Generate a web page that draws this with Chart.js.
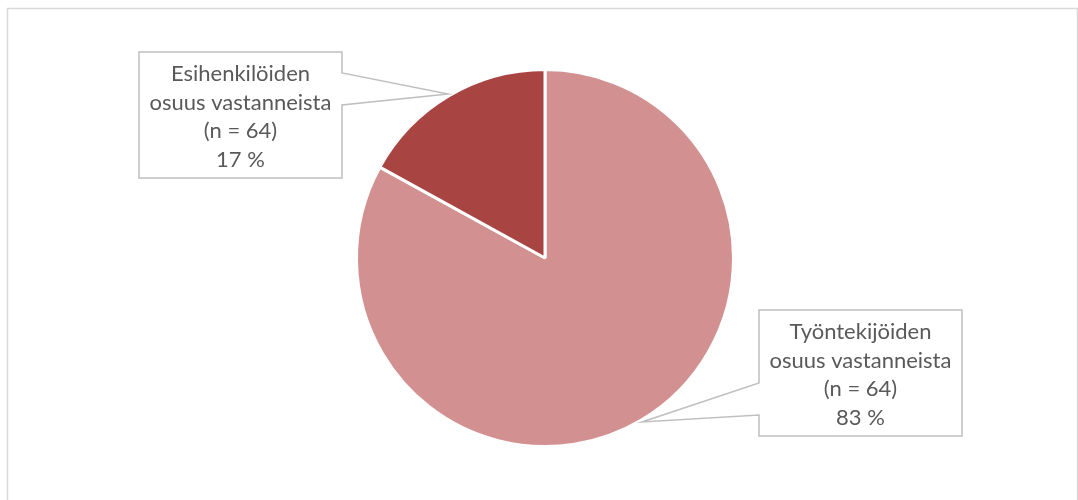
<!DOCTYPE html>
<html>
<head>
<meta charset="utf-8">
<script src="https://cdn.jsdelivr.net/npm/chart.js@4/dist/chart.umd.min.js"></script>
<style>
  html, body { margin: 0; padding: 0; background: #fff; }
  canvas { display: block; }
</style>
</head>
<body>
<canvas id="pie" width="1078" height="500"></canvas>
<script>
// slice data (clockwise from 12 o'clock)
const groupNames = ['Työntekijöiden osuus vastanneista', 'Esihenkilöiden osuus vastanneista'];
const nLabels = ['(n = 64)', '(n = 64)'];
const shares = [83, 17];
const sliceColors = ['#D29190', '#A84543'];

// callout boxes: x, y, w, h, which side the pointer leaves from, pointer base y's
const callouts = [
    {x: 759, y: 310, w: 203, h: 126, side: 'left', b1: 383, b2: 415},
    {x: 139, y: 52, w: 203, h: 126, side: 'right', b1: 73, b2: 105}
];

const framePlugin = {
    id: 'frame',
    beforeDraw(chart) {
        const ctx = chart.ctx;
        ctx.save();
        ctx.fillStyle = '#fff';
        ctx.fillRect(0, 0, chart.width, chart.height);
        ctx.strokeStyle = '#d9d9d9';
        ctx.lineWidth = 1.5;
        ctx.strokeRect(7.5, 8.5, 1070, 600);
        ctx.restore();
    }
};

const calloutPlugin = {
    id: 'callouts',
    afterDatasetsDraw(chart) {
        const ctx = chart.ctx;
        const meta = chart.getDatasetMeta(0);
        meta.data.forEach(function(arc, i) {
            const c = callouts[i];
            const mid = (arc.startAngle + arc.endAngle) / 2;
            const r = arc.outerRadius + 2;
            const tx = arc.x + Math.cos(mid) * r;
            const ty = arc.y + Math.sin(mid) * r;

            ctx.save();
            ctx.beginPath();
            ctx.moveTo(c.x, c.y);
            ctx.lineTo(c.x + c.w, c.y);
            if (c.side === 'right') {
                ctx.lineTo(c.x + c.w, c.b1);
                ctx.lineTo(tx, ty);
                ctx.lineTo(c.x + c.w, c.b2);
            }
            ctx.lineTo(c.x + c.w, c.y + c.h);
            ctx.lineTo(c.x, c.y + c.h);
            if (c.side === 'left') {
                ctx.lineTo(c.x, c.b2);
                ctx.lineTo(tx, ty);
                ctx.lineTo(c.x, c.b1);
            }
            ctx.closePath();
            ctx.fillStyle = '#fff';
            ctx.fill();
            ctx.strokeStyle = '#bfbfbf';
            ctx.lineWidth = 1.5;
            ctx.stroke();

            // text
            const words = groupNames[i].split(' ');
            const lines = [words[0], words.slice(1).join(' '), nLabels[i], shares[i] + ' %'];
            ctx.fillStyle = '#595959';
            ctx.font = '22px Lato';
            ctx.textAlign = 'center';
            ctx.textBaseline = 'alphabetic';
            lines.forEach(function(t, k) {
                ctx.fillText(t, c.x + c.w / 2, c.y + 29 + k * 28.7);
            });
            ctx.restore();
        });
    }
};

new Chart(document.getElementById('pie'), {
    type: 'pie',
    data: {
        labels: groupNames,
        datasets: [{
            data: shares,
            backgroundColor: sliceColors,
            borderColor: '#ffffff',
            borderWidth: 3
        }]
    },
    options: {
        responsive: false,
        animation: false,
        layout: {
            padding: {top: 68, bottom: 52, left: 355, right: 343}
        },
        plugins: {
            legend: {display: false},
            tooltip: {enabled: false}
        }
    },
    plugins: [framePlugin, calloutPlugin]
});
</script>
</body>
</html>
